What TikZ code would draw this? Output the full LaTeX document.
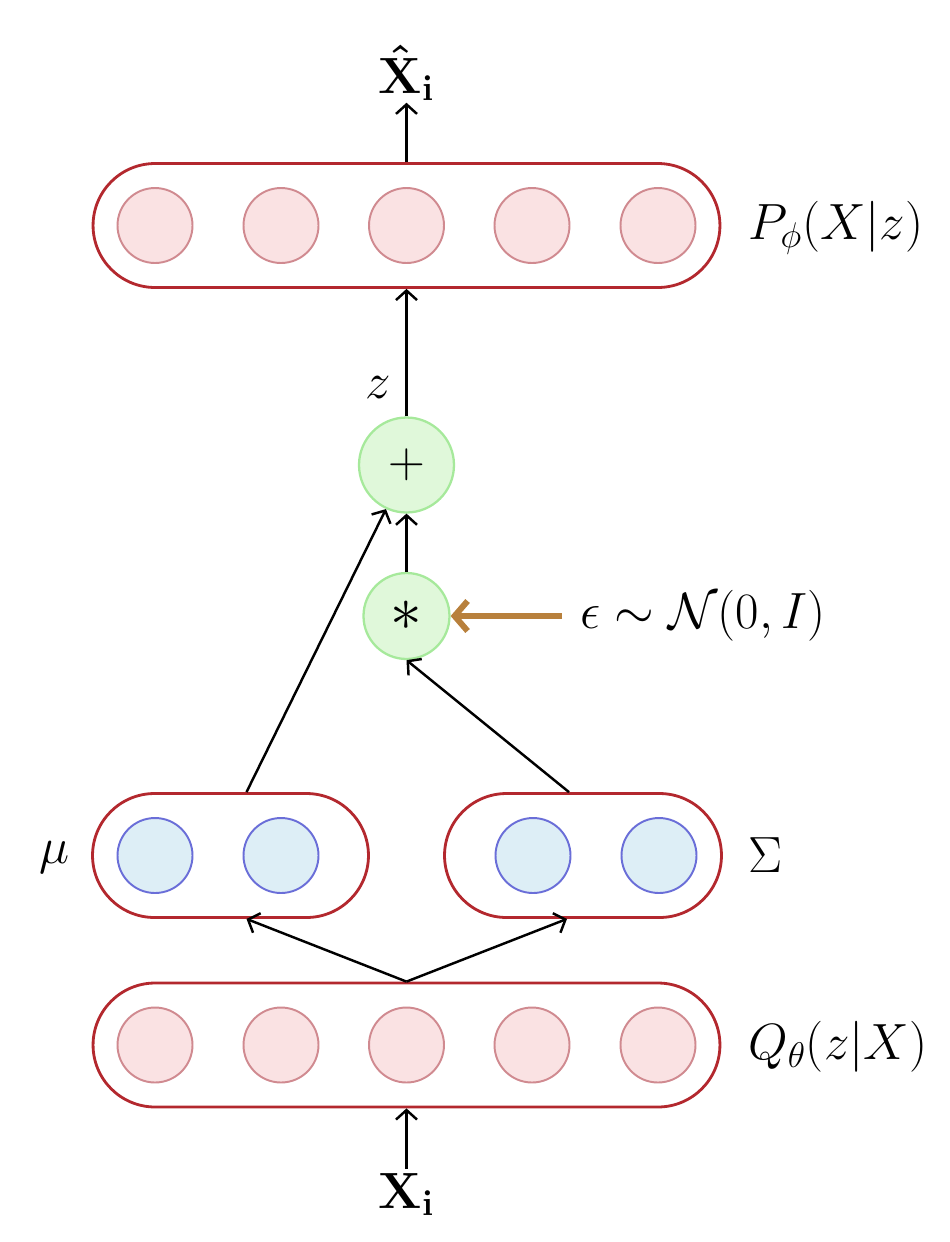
\RequirePackage{fix-cm}
\documentclass[tikz,border=0pt]{standalone}
\usetikzlibrary{arrows.meta,shapes.misc,calc}
\definecolor{capred}{HTML}{B3282E}
\definecolor{pinkfill}{HTML}{FAE2E3}
\definecolor{pinkline}{HTML}{D08A90}
\definecolor{bluefill}{HTML}{DDEEF6}
\definecolor{blueline}{HTML}{6A6ED8}
\definecolor{greenfill}{HTML}{E0F8DA}
\definecolor{greenline}{HTML}{A6E99B}
\definecolor{noisebrown}{HTML}{B8803C}
\begin{document}
\begin{tikzpicture}[x=0.02cm,y=-0.02cm,
  capsule/.style={rounded rectangle, draw=capred, line width=1.6pt, minimum height=2.48cm, inner sep=0, fill=white},
  pinknode/.style={circle, draw=pinkline, fill=pinkfill, line width=1.1pt, minimum size=1.5cm, inner sep=0},
  bluenode/.style={circle, draw=blueline, fill=bluefill, line width=1.1pt, minimum size=1.5cm, inner sep=0},
  opnode/.style={circle, draw=greenline, fill=greenfill, line width=1.3pt, inner sep=0, font=\fontsize{29}{34}\selectfont},
  lab/.style={inner sep=0, font=\fontsize{29}{34}\selectfont},
  arr/.style={-{Straight Barb[length=1.9mm,width=4.2mm]}, line width=1.4pt},
  noisearr/.style={-{Straight Barb[length=2.6mm,width=6mm]}, line width=3.4pt, draw=noisebrown}
]
\useasboundingbox (0,0) rectangle (950,1242);

% decoder
\node[capsule, minimum width=12.54cm] (dec) at (406.5,225.5) {};
\foreach \x [count=\i] in {155,281,406.5,532,658} \node[pinknode] (d\i) at (\x,225.5) {};

% mu and sigma
\node[capsule, minimum width=5.52cm] (mu) at (230.5,855.5) {};
\node[bluenode] (m1) at (155,855.5) {};
\node[bluenode] (m2) at (281,855.5) {};
\node[capsule, minimum width=5.54cm] (sig) at (583,855.5) {};
\node[bluenode] (s1) at (533,855.5) {};
\node[bluenode] (s2) at (659,855.5) {};

% encoder
\node[capsule, minimum width=12.54cm] (enc) at (406.5,1045) {};
\foreach \x [count=\i] in {155,281,406.5,532,658} \node[pinknode] (e\i) at (\x,1045) {};

% operations
\node[opnode, minimum size=1.9cm] (plus) at (406.5,465) {$+$};
\node[opnode, minimum size=1.72cm, font=\fontsize{36}{40}\selectfont] (star) at (406.5,616) {$\ast$};

% labels
\node[lab, anchor=base, inner sep=1pt] (xhat) at (406.5,93) {$\mathbf{\hat{X}_i}$};
\node[lab, anchor=base, inner sep=2pt] (xi) at (406.5,1208) {$\mathbf{X}_{\mathbf{i}}$};
\node[lab, anchor=west] (plab) at (748,228) {$P_\phi(X|z)$};
\node[lab, anchor=west] (qlab) at (748,1047) {$Q_\theta(z|X)$};
\node[lab, anchor=west] (slab) at (748,855) {$\Sigma$};
\node[lab] (mlab) at (55,857) {$\mu$};
\node[lab] (zlab) at (378,388) {$z$};
\node[lab, anchor=west, inner xsep=0.36cm] (eps) at (562,616) {$\epsilon\sim\mathcal{N}(0,I)$};

% connectors
\draw[arr] (dec.north) -- (xhat.south);
\draw[arr] (plus.north) -- (dec.south);
\draw[arr] (star.north) -- (plus.south);
\draw[arr] ($(mu.north)+(16,0)$) -- (plus.245);
\draw[arr] ($(sig.north)+(-14,0)$) -- (star.south);
\draw[noisearr] (eps.west) -- (star.east);
\draw[arr] (enc.north) -- ($(mu.south)+(16,0)$);
\draw[arr] (enc.north) -- ($(sig.south)+(-16,0)$);
\draw[arr] (xi.north) -- (enc.south);
\end{tikzpicture}
\end{document}
